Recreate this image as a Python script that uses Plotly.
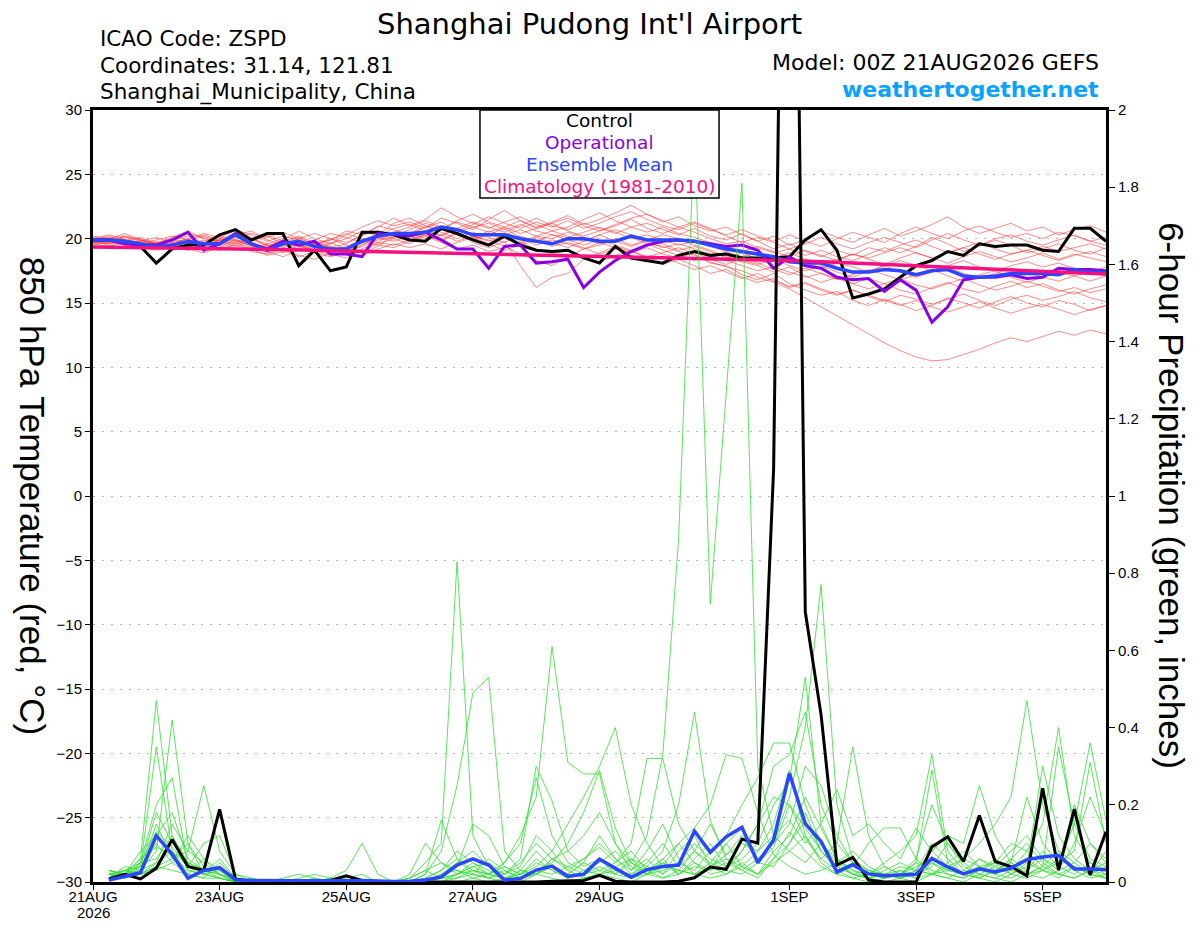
import pandas as pd
import plotly.graph_objects as go

# 6-hourly forecast times, 00Z 21AUG2026 -> 00Z 06SEP2026
times = pd.date_range('2026-08-21 00:00', '2026-09-06 00:00', freq='6h')
clim_days = pd.date_range('2026-08-21', '2026-09-06', freq='1D')

tick_dates = ['2026-08-21', '2026-08-23', '2026-08-25', '2026-08-27',
              '2026-08-29', '2026-09-01', '2026-09-03', '2026-09-05']
tick_labels = ['21AUG', '23AUG', '25AUG', '27AUG', '29AUG', '1SEP', '3SEP', '5SEP']
year_label = '2026'

# 850 hPa temperature (C)
control_temp = [19.9, 19.9, 19.8, 19.4, 18.1, 19.2, 19.5, 19.5, 20.3, 20.7,
                19.9, 20.4, 20.4, 17.9, 19.1, 17.5, 17.8, 20.5, 20.5, 20.3,
                19.9, 19.8, 20.8, 20.4, 19.9, 19.5, 20.2, 19.5, 19.1, 19.0,
                19.1, 18.5, 18.1, 19.4, 18.5, 18.3, 18.1, 18.7, 19.0, 18.7,
                18.8, 18.5, 18.5, 18.5, 18.6, 19.9, 20.7, 19.1, 15.4, 15.7,
                16.1, 17.0, 17.9, 18.3, 19.0, 18.7, 19.6, 19.4, 19.5, 19.5,
                19.1, 19.0, 20.8, 20.8, 19.8]
oper_temp = [19.9, 19.9, 19.6, 19.5, 19.5, 19.9, 20.5, 19.1, 19.6, 20.4,
             19.6, 19.2, 19.8, 19.5, 19.8, 18.8, 18.8, 18.6, 20.4, 20.3,
             20.2, 20.5, 19.9, 19.2, 19.2, 17.7, 19.4, 19.5, 18.1, 18.2,
             18.4, 16.2, 17.4, 18.3, 19.0, 19.5, 19.8, 19.9, 19.8, 19.6,
             19.4, 19.5, 19.1, 17.7, 18.6, 17.9, 17.7, 17.0, 16.8, 16.9,
             15.9, 16.8, 16.0, 13.5, 14.7, 16.8, 17.0, 17.0, 17.2, 16.9,
             17.0, 17.7, 17.6, 17.6, 17.5]
mean_temp = [19.9, 19.9, 19.8, 19.6, 19.4, 19.5, 19.8, 19.6, 19.6, 20.3,
             19.6, 19.1, 19.6, 19.8, 19.4, 19.2, 19.2, 19.8, 20.2, 20.4,
             20.4, 20.5, 20.9, 20.7, 20.3, 20.3, 20.3, 20.0, 19.8, 19.6,
             20.0, 20.0, 19.8, 19.8, 20.2, 19.9, 19.9, 19.9, 19.8, 19.5,
             19.2, 19.0, 18.8, 18.6, 18.2, 18.1, 18.1, 17.7, 17.4, 17.4,
             17.6, 17.5, 17.2, 17.5, 17.6, 17.1, 17.0, 17.1, 17.3, 17.3,
             17.3, 17.2, 17.6, 17.4, 17.4]
clim_temp = [19.35, 19.3, 19.25, 19.15, 19.05, 18.95, 18.85, 18.75, 18.65,
             18.55, 18.45, 18.3, 18.1, 17.9, 17.65, 17.45, 17.25]

temp_m01 = [20.2, 20.0, 20.4, 19.9, 19.6, 20.1, 20.6, 20.0, 19.8, 20.5,
            20.1, 19.4, 19.9, 20.6, 20.0, 19.6, 20.3, 20.9, 21.4, 21.0,
            21.3, 20.8, 21.6, 21.2, 20.7, 21.5, 22.2, 21.4, 20.9, 21.3,
            21.8, 21.1, 21.5, 22.0, 22.6, 21.9, 21.3, 21.7, 21.0, 20.6,
            20.9, 20.3, 19.8, 20.2, 19.5, 19.9, 20.6, 20.1, 19.7, 20.3,
            20.8, 20.2, 20.6, 21.1, 21.7, 20.9, 20.4, 20.8, 21.2, 20.6,
            20.9, 20.3, 20.7, 21.0, 20.5]
temp_m02 = [19.8, 19.7, 19.5, 19.3, 19.1, 19.4, 19.2, 18.9, 19.3, 19.7,
            19.2, 18.7, 19.0, 19.5, 18.9, 18.6, 18.9, 19.6, 20.0, 20.3,
            20.1, 20.6, 20.3, 19.8, 20.2, 19.9, 19.4, 18.8, 18.3, 17.9,
            18.6, 19.2, 19.5, 19.9, 20.1, 19.6, 19.4, 19.0, 18.7, 18.2,
            17.8, 17.5, 17.0, 16.6, 16.1, 15.4, 14.7, 14.0, 13.3, 12.6,
            11.9, 11.3, 10.8, 10.5, 10.6, 11.0, 11.4, 11.9, 12.3, 12.0,
            12.4, 12.8, 12.5, 12.9, 12.6]
temp_m03 = [19.6, 19.9, 19.7, 19.5, 19.8, 19.3, 19.6, 19.9, 19.4, 19.8,
            19.5, 19.0, 18.6, 19.1, 19.4, 18.8, 18.5, 19.2, 19.7, 19.5,
            19.9, 20.3, 19.8, 20.4, 19.7, 19.3, 19.8, 17.9, 16.2, 17.0,
            17.3, 18.4, 18.9, 19.4, 19.0, 18.6, 18.9, 19.3, 18.8, 18.1,
            17.9, 17.2, 16.8, 17.3, 16.5, 16.0, 15.6, 15.9, 15.2, 14.8,
            15.3, 14.9, 14.4, 14.8, 15.4, 15.0, 14.6, 15.1, 15.5, 15.0,
            14.7, 15.2, 14.9, 14.4, 14.8]
temp_m04 = [20.0, 20.3, 20.0, 19.7, 19.5, 19.9, 20.2, 19.6, 20.0, 20.7,
            20.3, 19.8, 20.2, 19.9, 19.5, 19.9, 20.6, 20.3, 20.9, 21.6,
            21.0, 21.5, 22.4, 21.7, 21.2, 20.8, 21.3, 21.7, 21.1, 20.6,
            20.9, 21.5, 22.0, 21.4, 20.9, 21.2, 20.7, 20.3, 20.8, 20.2,
            19.9, 20.4, 19.8, 19.2, 19.6, 19.0, 18.6, 19.1, 18.7, 19.3,
            19.0, 19.5, 19.9, 19.4, 18.9, 19.3, 19.7, 19.2, 18.8, 19.1,
            19.4, 19.0, 19.3, 19.6, 19.2]
temp_m05 = [19.7, 19.6, 19.9, 19.6, 19.3, 19.6, 19.4, 19.1, 19.6, 20.0,
            19.4, 18.9, 19.3, 19.6, 19.1, 18.7, 19.0, 19.4, 19.9, 20.1,
            20.5, 20.0, 20.7, 20.3, 19.9, 20.4, 20.0, 19.6, 20.1, 19.7,
            19.3, 19.8, 20.3, 20.7, 20.3, 19.9, 20.3, 20.0, 19.5, 19.1,
            18.6, 18.2, 17.9, 17.4, 17.8, 17.1, 16.6, 17.0, 16.5, 16.1,
            16.5, 16.0, 15.7, 16.2, 16.6, 16.1, 15.8, 16.3, 16.7, 16.2,
            16.5, 16.0, 15.7, 16.1, 16.4]
temp_m06 = [19.9, 20.1, 19.6, 19.4, 19.7, 20.0, 19.7, 19.5, 19.9, 20.2,
            19.7, 19.3, 19.8, 20.2, 19.7, 19.3, 19.6, 20.3, 20.6, 20.2,
            20.7, 21.2, 20.8, 21.3, 20.9, 20.5, 20.9, 20.4, 20.8, 21.2,
            20.6, 20.2, 20.6, 21.0, 21.5, 20.8, 20.4, 20.9, 20.5, 20.0,
            19.6, 19.8, 19.3, 18.9, 19.2, 18.7, 19.1, 18.6, 18.3, 18.8,
            19.3, 18.9, 19.4, 20.1, 19.6, 19.0, 19.4, 19.9, 19.5, 18.9,
            19.2, 19.6, 19.1, 18.8, 19.3]
temp_m07 = [19.8, 19.5, 19.3, 19.6, 19.4, 19.2, 19.5, 19.7, 19.2, 19.5,
            19.0, 18.8, 19.2, 18.7, 18.4, 18.9, 19.3, 19.0, 19.6, 20.0,
            19.6, 20.2, 19.7, 19.2, 19.5, 19.0, 19.3, 19.7, 19.2, 18.8,
            19.1, 18.6, 18.2, 18.7, 19.1, 18.5, 18.0, 18.4, 17.9, 17.3,
            17.6, 17.0, 16.6, 16.9, 16.2, 16.5, 16.0, 15.6, 16.0, 15.5,
            15.1, 15.6, 15.3, 14.9, 15.3, 15.7, 15.2, 14.8, 15.3, 15.6,
            15.2, 15.5, 15.9, 15.4, 15.1]
temp_m08 = [20.1, 19.8, 20.2, 20.0, 19.6, 19.8, 20.4, 20.1, 19.7, 20.3,
            20.6, 19.9, 19.5, 20.0, 20.4, 20.0, 19.7, 20.2, 21.0, 20.7,
            20.3, 20.9, 21.3, 20.6, 21.1, 21.7, 21.2, 20.8, 21.3, 20.9,
            21.4, 20.8, 21.2, 21.7, 22.1, 21.5, 21.0, 20.7, 21.2, 20.7,
            20.3, 20.7, 20.2, 19.8, 20.3, 19.8, 19.4, 20.0, 20.5, 20.1,
            19.7, 20.4, 20.9, 20.4, 20.0, 20.6, 21.0, 20.5, 20.1, 20.4,
            20.0, 20.5, 20.2, 19.8, 20.1]
temp_m09 = [19.5, 19.8, 19.6, 19.8, 19.5, 19.7, 20.0, 19.4, 19.1, 19.6,
            19.9, 19.5, 18.9, 19.3, 19.8, 19.4, 18.8, 19.5, 20.1, 19.8,
            20.2, 19.8, 20.3, 20.8, 20.2, 19.8, 20.3, 20.7, 20.2, 20.0,
            20.5, 20.1, 19.6, 20.0, 19.5, 19.9, 19.6, 19.1, 19.4, 19.0,
            18.5, 18.9, 18.4, 18.0, 18.5, 18.2, 17.7, 18.1, 17.8, 17.4,
            17.9, 18.3, 17.9, 17.5, 17.9, 18.3, 17.8, 17.5, 17.9, 18.2,
            17.8, 18.1, 17.7, 17.4, 17.8]
temp_m10 = [19.9, 19.6, 19.8, 20.1, 19.6, 19.4, 19.8, 20.2, 19.8, 19.4,
            19.8, 20.2, 19.6, 19.2, 19.6, 20.0, 19.5, 18.9, 19.4, 20.3,
            19.9, 20.4, 20.9, 20.4, 19.9, 20.3, 20.8, 20.1, 19.5, 19.9,
            19.6, 19.2, 19.7, 19.3, 18.9, 19.3, 18.8, 18.5, 18.9, 18.4,
            18.0, 18.5, 18.1, 17.6, 17.2, 17.7, 17.3, 16.8, 17.2, 17.6,
            17.2, 16.8, 17.2, 17.6, 17.1, 16.7, 17.2, 17.5, 17.0, 16.6,
            17.0, 17.4, 17.1, 16.7, 17.1]
temp_m11 = [19.7, 20.0, 20.2, 19.8, 20.1, 19.7, 19.3, 19.8, 20.2, 19.9,
            19.3, 19.6, 20.0, 19.5, 19.1, 19.6, 20.0, 20.6, 20.2, 20.8,
            21.1, 20.6, 20.2, 20.8, 21.3, 20.9, 20.5, 21.0, 21.6, 21.0,
            20.7, 21.2, 20.8, 20.4, 20.9, 20.5, 20.9, 20.4, 20.1, 19.7,
            19.4, 19.0, 19.4, 19.0, 18.6, 19.1, 18.7, 18.3, 18.8, 18.4,
            18.0, 18.5, 18.9, 18.5, 18.1, 18.6, 19.0, 18.6, 18.2, 18.5,
            18.9, 18.4, 18.8, 18.5, 18.2]
temp_m12 = [19.6, 19.4, 19.7, 19.4, 19.7, 19.5, 19.1, 19.4, 19.9, 19.6,
            19.1, 19.5, 19.1, 18.6, 19.0, 19.4, 19.0, 18.7, 19.2, 19.6,
            19.3, 19.6, 19.2, 19.7, 20.1, 19.6, 19.1, 19.5, 19.9, 19.4,
            19.7, 19.3, 18.8, 19.2, 18.7, 18.2, 18.6, 18.1, 17.6, 17.9,
            17.4, 16.9, 17.3, 16.7, 16.3, 16.6, 16.1, 15.7, 16.0, 15.6,
            15.2, 14.8, 15.2, 14.7, 14.3, 14.7, 15.1, 14.6, 14.2, 14.6,
            14.9, 14.5, 14.1, 14.5, 14.8]
temp_m13 = [20.0, 19.7, 19.9, 19.7, 19.9, 20.2, 19.9, 20.3, 19.9, 20.1,
            20.4, 20.1, 20.5, 20.0, 19.6, 19.9, 20.4, 20.0, 19.7, 20.5,
            20.9, 21.4, 20.9, 20.5, 20.9, 21.2, 20.7, 21.1, 20.6, 20.3,
            20.1, 20.5, 20.9, 20.5, 20.0, 20.3, 19.9, 19.5, 19.8, 19.4,
            19.0, 18.6, 18.9, 18.5, 18.9, 18.4, 18.0, 18.4, 18.8, 18.5,
            18.9, 19.3, 18.9, 18.5, 18.9, 19.3, 18.8, 18.4, 18.8, 19.1,
            18.7, 18.3, 18.7, 19.0, 18.6]
temp_m14 = [19.8, 20.0, 19.5, 19.9, 19.5, 19.9, 19.6, 19.3, 19.7, 20.2,
            20.0, 19.6, 19.4, 19.8, 19.3, 19.7, 19.2, 19.8, 20.4, 20.0,
            20.4, 21.0, 20.5, 20.0, 20.5, 20.1, 19.7, 20.2, 19.8, 20.3,
            19.9, 19.5, 19.9, 19.5, 19.1, 19.6, 19.1, 18.7, 18.3, 18.7,
            18.3, 17.9, 17.5, 17.8, 17.4, 17.0, 17.3, 16.9, 16.5, 16.9,
            16.5, 16.9, 16.4, 16.1, 16.5, 16.9, 16.4, 16.0, 16.3, 16.7,
            16.3, 15.9, 16.2, 15.8, 16.1]
temp_m15 = [19.9, 20.2, 19.8, 19.5, 19.3, 19.6, 20.0, 20.4, 20.1, 19.8,
            19.9, 20.3, 19.8, 19.4, 19.9, 20.4, 20.1, 19.7, 20.3, 21.2,
            21.6, 21.0, 20.7, 21.4, 21.9, 21.3, 20.9, 21.4, 20.8, 21.2,
            21.6, 21.0, 20.6, 21.1, 21.6, 21.9, 21.4, 20.9, 21.3, 20.8,
            20.2, 19.7, 20.1, 19.7, 19.2, 19.6, 20.1, 19.6, 19.2, 19.7,
            20.1, 19.7, 19.3, 19.9, 20.4, 19.9, 19.5, 20.0, 20.3, 19.8,
            19.5, 19.9, 20.3, 19.8, 19.5]
temp_m16 = [19.7, 19.9, 20.1, 19.9, 19.6, 19.4, 19.7, 19.3, 19.5, 19.9,
            19.6, 19.2, 19.7, 20.1, 19.6, 19.1, 19.4, 19.9, 19.5, 19.3,
            19.8, 20.3, 19.9, 20.5, 20.0, 20.6, 20.2, 19.7, 20.2, 20.6,
            20.2, 19.8, 20.3, 19.8, 19.4, 19.8, 19.3, 19.6, 19.2, 18.8,
            18.9, 18.3, 18.0, 18.4, 17.9, 17.5, 17.9, 17.4, 17.0, 17.5,
            17.9, 17.4, 17.0, 17.4, 17.8, 17.3, 16.9, 17.3, 17.7, 17.4,
            17.0, 16.7, 17.1, 17.5, 17.1]

# 6-hour precipitation (inches), valid 06Z 21AUG onward
control_precip = [0.008, 0.02, 0.008, 0.036, 0.11, 0.04, 0.03, 0.188,
                  0.008, 0.002, 0.0, 0.002, 0.003, 0.002, 0.004, 0.016,
                  0.004, 0.0, 0.0, 0.0, 0.0, 0.0, 0.0, 0.0,
                  0.0, 0.0, 0.0, 0.0, 0.002, 0.003, 0.004, 0.017,
                  0.002, 0.0, 0.0, 0.0, 0.002, 0.011, 0.039, 0.033,
                  0.111, 0.101, 1.07, 4.1, 0.7, 0.433, 0.044, 0.064,
                  0.005, 0.0, 0.0, 0.0, 0.091, 0.117, 0.053, 0.172,
                  0.053, 0.04, 0.016, 0.243, 0.031, 0.189, 0.018, 0.13]
mean_precip = [0.005, 0.014, 0.024, 0.12, 0.072, 0.01, 0.03, 0.037,
               0.006, 0.004, 0.003, 0.003, 0.003, 0.003, 0.002, 0.003,
               0.004, 0.002, 0.001, 0.002, 0.005, 0.013, 0.044, 0.06,
               0.044, 0.005, 0.009, 0.031, 0.041, 0.015, 0.02, 0.059,
               0.035, 0.012, 0.032, 0.04, 0.044, 0.132, 0.077, 0.117,
               0.142, 0.05, 0.109, 0.282, 0.151, 0.105, 0.026, 0.045,
               0.021, 0.016, 0.018, 0.02, 0.061, 0.039, 0.021, 0.034,
               0.026, 0.036, 0.058, 0.065, 0.069, 0.034, 0.034, 0.032]

precip_m01 = [0.01, 0.02, 0.06, 0.47, 0.12, 0.05, 0.03, 0.01,
              0, 0, 0, 0, 0, 0, 0, 0,
              0, 0, 0, 0, 0.02, 0.16, 0.06, 0.02,
              0.01, 0, 0.03, 0.08, 0.04, 0.02, 0.05, 0.12,
              0.06, 0.02, 0.05, 0.1, 0.04, 0.08, 0.15, 0.07,
              0.12, 0.05, 0.09, 0.2, 0.11, 0.06, 0.1, 0.35,
              0.12, 0.04, 0.02, 0.01, 0.05, 0.02, 0.01, 0.03,
              0.02, 0.06, 0.03, 0.08, 0.04, 0.02, 0.05, 0.03]
precip_m02 = [0.02, 0.01, 0.04, 0.35, 0.08, 0.02, 0.06, 0.02,
              0, 0.01, 0, 0, 0, 0, 0.01, 0,
              0, 0, 0, 0.01, 0.05, 0.1, 0.83, 0.12,
              0.04, 0.01, 0.02, 0.06, 0.03, 0.01, 0.02, 0.06,
              0.02, 0.01, 0.03, 0.06, 0.02, 0.05, 0.03, 0.1,
              0.04, 0.08, 0.15, 0.29, 0.12, 0.05, 0.02, 0.04,
              0.1, 0.14, 0.14, 0.06, 0.02, 0.01, 0.03, 0.01,
              0, 0.02, 0.05, 0.03, 0.01, 0.04, 0.02, 0.01]
precip_m03 = [0.01, 0.03, 0.05, 0.2, 0.27, 0.04, 0.02, 0.03,
              0.01, 0, 0, 0, 0, 0, 0, 0,
              0, 0, 0, 0, 0.01, 0.03, 0.08, 0.05,
              0.02, 0.05, 0.12, 0.22, 0.61, 0.31, 0.28, 0.28,
              0.1, 0.03, 0.06, 0.02, 0.08, 0.12, 0.04, 0.06,
              0.03, 0.01, 0.06, 0.13, 0.08, 0.04, 0.02, 0.01,
              0.02, 0.05, 0.08, 0.12, 0.33, 0.08, 0.03, 0.06,
              0.04, 0.02, 0.01, 0.03, 0.02, 0.04, 0.02, 0.01]
precip_m04 = [0.02, 0.02, 0.03, 0.15, 0.06, 0.1, 0.04, 0.02,
              0, 0, 0, 0.01, 0.02, 0.01, 0, 0,
              0, 0, 0, 0, 0, 0.01, 0.04, 0.15,
              0.12, 0.04, 0.02, 0.03, 0.05, 0.1, 0.18, 0.29,
              0.14, 0.05, 0.02, 0.04, 0.1, 0.05, 0.02, 0.03,
              0.08, 0.15, 0.22, 0.2, 0.14, 0.08, 0.03, 0.01,
              0, 0.01, 0.02, 0.05, 0.29, 0.05, 0.02, 0.01,
              0.03, 0.06, 0.1, 0.05, 0.02, 0.01, 0.03, 0.05]
precip_m05 = [0.03, 0.02, 0.08, 0.12, 0.18, 0.06, 0.03, 0.04,
              0.01, 0, 0, 0, 0, 0, 0, 0,
              0, 0, 0, 0.01, 0.03, 0.01, 0.02, 0.05,
              0.03, 0.01, 0.02, 0.04, 0.08, 0.15, 0.22, 0.3,
              0.4, 0.2, 0.1, 0.04, 0.03, 0.08, 0.04, 0.02,
              0.05, 0.02, 0.08, 0.12, 0.22, 0.14, 0.06, 0.03,
              0.01, 0.02, 0.04, 0.03, 0.08, 0.12, 0.1, 0.25,
              0.12, 0.05, 0.02, 0.03, 0.06, 0.04, 0.02, 0.04]
precip_m06 = [0.01, 0.02, 0.03, 0.08, 0.42, 0.1, 0.02, 0.01,
              0, 0, 0, 0, 0, 0, 0, 0,
              0, 0, 0, 0, 0, 0, 0.02, 0.04,
              0.02, 0.01, 0.01, 0.03, 0.02, 0.04, 0.06, 0.09,
              0.05, 0.1, 0.32, 0.32, 0.15, 0.08, 0.05, 0.03,
              0.02, 0.05, 0.04, 0.1, 0.18, 0.08, 0.04, 0.02,
              0.01, 0.03, 0.05, 0.03, 0.02, 0.04, 0.06, 0.1,
              0.15, 0.22, 0.47, 0.2, 0.08, 0.05, 0.1, 0.06]
precip_m07 = [0.02, 0.01, 0.05, 0.06, 0.12, 0.03, 0.02, 0.01,
              0, 0, 0, 0, 0, 0, 0, 0,
              0, 0, 0, 0, 0, 0.01, 0.02, 0.03,
              0.01, 0.02, 0.05, 0.1, 0.06, 0.08, 0.12, 0.18,
              0.1, 0.05, 0.12, 0.33, 0.89, 1.95, 0.72, 1.27,
              1.81, 0.3, 0.12, 0.08, 0.05, 0.1, 0.06, 0.03,
              0.02, 0.01, 0.02, 0.04, 0.06, 0.03, 0.02, 0.04,
              0.05, 0.02, 0.04, 0.3, 0.12, 0.06, 0.03, 0.02]
precip_m08 = [0.01, 0.03, 0.02, 0.04, 0.06, 0.08, 0.25, 0.08,
              0.02, 0, 0, 0, 0, 0, 0, 0,
              0, 0, 0, 0, 0, 0.02, 0.05, 0.08,
              0.04, 0.02, 0.06, 0.3, 0.21, 0.08, 0.04, 0.06,
              0.03, 0.02, 0.04, 0.08, 0.2, 0.44, 0.16, 0.06,
              0.04, 0.02, 0.05, 0.08, 0.12, 0.06, 0.03, 0.05,
              0.03, 0.02, 0.01, 0.02, 0.04, 0.1, 0.05, 0.02,
              0.01, 0.03, 0.08, 0.15, 0.4, 0.12, 0.05, 0.02]
precip_m09 = [0.02, 0.03, 0.04, 0.1, 0.05, 0.12, 0.06, 0.03,
              0, 0, 0, 0, 0.01, 0.02, 0.01, 0.03,
              0.1, 0.02, 0, 0, 0.01, 0.03, 0.06, 0.03,
              0.02, 0.04, 0.02, 0.05, 0.03, 0.01, 0.03, 0.05,
              0.08, 0.04, 0.02, 0.06, 0.1, 0.14, 0.2, 0.33,
              0.32, 0.18, 0.07, 0.04, 0.02, 0.03, 0.05, 0.02,
              0.01, 0.02, 0.01, 0.03, 0.02, 0.05, 0.08, 0.04,
              0.02, 0.04, 0.06, 0.03, 0.05, 0.15, 0.36, 0.16]
precip_m10 = [0.01, 0.04, 0.03, 0.05, 0.08, 0.04, 0.1, 0.12,
              0.02, 0.01, 0, 0, 0, 0.01, 0, 0,
              0, 0, 0, 0.02, 0.1, 0.05, 0.03, 0.02,
              0.06, 0.03, 0.01, 0.02, 0.04, 0.02, 0.05, 0.03,
              0.02, 0.06, 0.04, 0.02, 0.05, 0.03, 0.08, 0.12,
              0.2, 0.27, 0.36, 0.36, 0.2, 0.1, 0.05, 0.08,
              0.04, 0.02, 0.03, 0.01, 0.02, 0.03, 0.02, 0.06,
              0.03, 0.05, 0.22, 0.1, 0.05, 0.08, 0.31, 0.1]
precip_m11 = [0.02, 0.01, 0.02, 0.03, 0.05, 0.02, 0.01, 0.05,
              0.01, 0, 0, 0, 0, 0, 0, 0,
              0, 0, 0, 0, 0.02, 0.08, 0.25, 0.49,
              0.53, 0.08, 0.03, 0.02, 0.06, 0.04, 0.02, 0.03,
              0.05, 0.08, 0.03, 0.05, 0.02, 0.06, 0.1, 0.04,
              0.06, 0.1, 0.2, 0.26, 0.53, 0.15, 0.06, 0.02,
              0.03, 0.01, 0.02, 0.05, 0.03, 0.02, 0.01, 0.03,
              0.06, 0.03, 0.02, 0.04, 0.08, 0.03, 0.01, 0.02]
precip_m12 = [0.03, 0.02, 0.04, 0.18, 0.1, 0.05, 0.03, 0.02,
              0, 0, 0, 0, 0, 0, 0, 0.01,
              0.02, 0, 0, 0, 0, 0.02, 0.03, 0.01,
              0.02, 0.05, 0.1, 0.27, 0.12, 0.05, 0.03, 0.02,
              0.04, 0.06, 0.02, 0.03, 0.05, 0.1, 0.06, 0.04,
              0.08, 0.15, 0.3, 0.33, 0.44, 0.2, 0.1, 0.05,
              0.02, 0.01, 0.03, 0.02, 0.05, 0.03, 0.06, 0.04,
              0.02, 0.01, 0.03, 0.06, 0.04, 0.2, 0.1, 0.05]
precip_m13 = [0.01, 0.02, 0.06, 0.09, 0.07, 0.03, 0.02, 0.06,
              0.01, 0, 0, 0, 0, 0, 0, 0,
              0, 0, 0, 0, 0, 0, 0.01, 0.02,
              0.01, 0.03, 0.01, 0.02, 0.04, 0.01, 0.02, 0.04,
              0.02, 0.05, 0.03, 0.01, 0.02, 0.04, 0.03, 0.05,
              0.03, 0.06, 0.1, 0.22, 0.4, 0.77, 0.2, 0.06,
              0.03, 0.02, 0.01, 0.03, 0.1, 0.06, 0.02, 0.01,
              0.03, 0.05, 0.02, 0.01, 0.03, 0.05, 0.02, 0.08]
precip_m14 = [0.02, 0.03, 0.02, 0.05, 0.15, 0.08, 0.05, 0.02,
              0, 0, 0, 0, 0, 0, 0, 0,
              0, 0, 0, 0, 0, 0.01, 0.01, 0.03,
              0.02, 0.01, 0.03, 0.02, 0.06, 0.03, 0.01, 0.02,
              0.03, 0.01, 0.02, 0.05, 0.03, 0.02, 0.04, 0.07,
              0.1, 0.08, 0.12, 0.16, 0.1, 0.15, 0.24, 0.12,
              0.15, 0.1, 0.06, 0.14, 0.08, 0.04, 0.02, 0.03,
              0.05, 0.1, 0.08, 0.04, 0.35, 0.15, 0.06, 0.04]
precip_m15 = [0.01, 0.01, 0.02, 0.04, 0.03, 0.02, 0.01, 0.01,
              0, 0, 0, 0, 0, 0, 0, 0,
              0, 0, 0, 0, 0, 0, 0, 0.01,
              0, 0.01, 0, 0.02, 0.01, 0, 0.01, 0.02,
              0.01, 0, 0.02, 0.01, 0.03, 0.02, 0.01, 0.02,
              0.04, 0.02, 0.06, 0.1, 0.16, 0.08, 0.04, 0.02,
              0.01, 0, 0.01, 0, 0.02, 0.01, 0, 0.02,
              0.01, 0, 0.02, 0.04, 0.02, 0.01, 0.03, 0.01]
precip_m16 = [0.03, 0.02, 0.05, 0.13, 0.09, 0.04, 0.03, 0.02,
              0.01, 0, 0, 0, 0, 0, 0.01, 0,
              0, 0, 0, 0.01, 0.03, 0.05, 0.02, 0.04,
              0.05, 0.02, 0.04, 0.12, 0.08, 0.03, 0.06, 0.1,
              0.06, 0.03, 0.08, 0.15, 0.06, 0.02, 0.05, 0.1,
              0.14, 0.06, 0.1, 0.15, 0.3, 0.25, 0.12, 0.05,
              0.02, 0.04, 0.02, 0.06, 0.2, 0.1, 0.04, 0.02,
              0.04, 0.08, 0.12, 0.06, 0.03, 0.1, 0.22, 0.12]

temp_members = [temp_m01, temp_m02, temp_m03, temp_m04, temp_m05, temp_m06,
                temp_m07, temp_m08, temp_m09, temp_m10, temp_m11, temp_m12,
                temp_m13, temp_m14, temp_m15, temp_m16]
precip_members = [precip_m01, precip_m02, precip_m03, precip_m04, precip_m05,
                  precip_m06, precip_m07, precip_m08, precip_m09, precip_m10,
                  precip_m11, precip_m12, precip_m13, precip_m14, precip_m15,
                  precip_m16]

FONT = 'Liberation Sans, Arial, sans-serif'
WIDE = 'DejaVu Sans, sans-serif'
precip_times = times[1:]

fig = go.Figure()

# ensemble members
for m in temp_members:
    fig.add_trace(go.Scatter(x=times, y=m, mode='lines',
                             line=dict(color='rgba(255,45,45,0.7)', width=0.8)))

fig.add_trace(go.Scatter(x=times, y=control_temp, mode='lines',
                         line=dict(color='black', width=3)))
fig.add_trace(go.Scatter(x=times, y=oper_temp, mode='lines',
                         line=dict(color='#8a00e6', width=3)))
fig.add_trace(go.Scatter(x=times, y=mean_temp, mode='lines',
                         line=dict(color='#2a46ff', width=3.5)))
fig.add_trace(go.Scatter(x=clim_days, y=clim_temp, mode='lines',
                         line=dict(color='#f5107f', width=3.5)))

# precipitation on the right axis
for m in precip_members:
    fig.add_trace(go.Scatter(x=precip_times, y=m, mode='lines', yaxis='y2',
                             line=dict(color='#2ee02e', width=0.8)))
fig.add_trace(go.Scatter(x=precip_times, y=control_precip, mode='lines', yaxis='y2',
                         line=dict(color='black', width=3)))
fig.add_trace(go.Scatter(x=precip_times, y=mean_precip, mode='lines', yaxis='y2',
                         line=dict(color='#2a46ff', width=3.5)))

# the page body adds an 8px margin, so the figure is sized/offset to suit
fig.update_layout(
    width=1192, height=919,
    margin=dict(l=85, r=94, t=102, b=45),
    paper_bgcolor='white', plot_bgcolor='white',
    showlegend=False,
    font=dict(family=FONT, color='black', size=15),
    xaxis=dict(type='date', range=[times[0], times[-1]],
               tickvals=tick_dates, ticktext=tick_labels,
               ticks='outside', ticklen=5, tickcolor='black',
               ticklabelstandoff=-6,
               showgrid=False, zeroline=False, automargin=False,
               showline=True, linewidth=3, linecolor='black', mirror=True,
               tickfont=dict(size=15)),
    yaxis=dict(range=[-30, 30], dtick=5, ticks='outside', ticklen=5,
               tickcolor='black', showgrid=True, gridcolor='#b4b4b4',
               griddash='2px,7px', gridwidth=1.2, zeroline=False,
               automargin=False,
               showline=True, linewidth=3, linecolor='black', mirror=True,
               tickfont=dict(size=15)),
    yaxis2=dict(range=[0, 2], dtick=0.2, overlaying='y', side='right',
                ticks='outside', ticklen=6, tickcolor='black',
                showgrid=False, zeroline=False, automargin=False,
                showline=True, linewidth=3, linecolor='black',
                tickfont=dict(size=15)),
)

# year under the first date label
fig.add_annotation(x=0.0, y=-0.0401, xref='paper', yref='paper', text=year_label,
                   showarrow=False, font=dict(size=15, family=FONT),
                   xanchor='center', yanchor='middle')

# legend box
fig.add_shape(type='rect', xref='paper', yref='paper', x0=0.382, x1=0.618,
              y0=0.886, y1=1.0, fillcolor='white',
              line=dict(color='black', width=1.5), layer='above')
legend_items = [('Control', 'black', 0.986), ('Operational', '#8a00e6', 0.958),
                ('Ensemble Mean', '#2a46ff', 0.930),
                ('Climatology (1981-2010)', '#f5107f', 0.901)]
for txt, col, yy in legend_items:
    fig.add_annotation(x=0.5, y=yy, xref='paper', yref='paper', text=txt,
                       showarrow=False, font=dict(size=18.5, color=col, family=WIDE),
                       xanchor='center', yanchor='middle')

# titles and header text
fig.add_annotation(x=0.4906, y=1.1114, xref='paper', yref='paper',
                   text="Shanghai Pudong Int'l Airport", showarrow=False,
                   font=dict(size=29, family=WIDE), xanchor='center', yanchor='middle')
header_left = [('ICAO Code: ZSPD', 1.0920), ('Coordinates: 31.14, 121.81', 1.0580),
               ('Shanghai_Municipality, China', 1.0233)]
for txt, yy in header_left:
    fig.add_annotation(x=0.005, y=yy, xref='paper', yref='paper', text=txt,
                       showarrow=False, font=dict(size=21.5, family=WIDE),
                       xanchor='left', yanchor='middle')
fig.add_annotation(x=0.995, y=1.0609, xref='paper', yref='paper',
                   text='Model: 00Z 21AUG2026 GEFS', showarrow=False,
                   font=dict(size=22, family=WIDE), xanchor='right', yanchor='middle')
fig.add_annotation(x=0.995, y=1.0272, xref='paper', yref='paper',
                   text='<b>weathertogether.net</b>', showarrow=False,
                   font=dict(size=22, family=WIDE, color='#0aa2ff'),
                   xanchor='right', yanchor='middle')

# axis titles
fig.add_annotation(x=-0.059, y=0.5, xref='paper', yref='paper',
                   text='850 hPa Temperature (red, °C)', textangle=90,
                   showarrow=False, font=dict(size=35, family=FONT),
                   xanchor='center', yanchor='middle')
fig.add_annotation(x=1.065, y=0.5, xref='paper', yref='paper',
                   text='6-hour Precipitation (green, inches)', textangle=90,
                   showarrow=False, font=dict(size=35, family=FONT),
                   xanchor='center', yanchor='middle')

fig.write_html('out.html')
